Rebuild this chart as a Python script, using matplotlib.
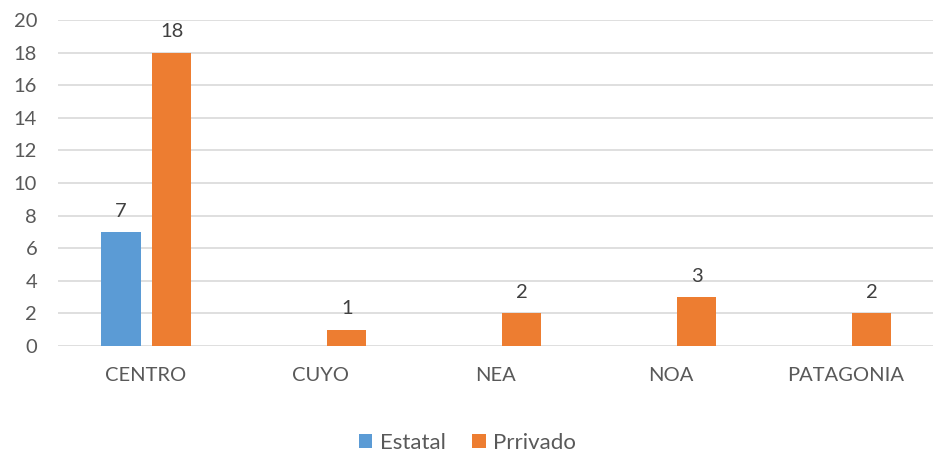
import matplotlib
matplotlib.use('Agg')
import matplotlib.pyplot as plt
import numpy as np

regiones = ['CENTRO', 'CUYO', 'NEA', 'NOA', 'PATAGONIA']
estatal = [7, 0, 0, 0, 0]
privado = [18, 1, 2, 3, 2]
series = ['Estatal', 'Prrivado']

plt.rcParams['font.family'] = ['Lato', 'DejaVu Sans']
gris = '#595959'

fig = plt.figure(figsize=(9.35, 4.55), dpi=100)
ax = fig.add_axes([58 / 935, 1 - 346 / 455, 875 / 935, 326 / 455])

x = np.arange(len(regiones))
w = 0.223
b1 = ax.bar(x - 0.14, estatal, w, color='#5B9BD5', label=series[0], zorder=3)
b2 = ax.bar(x + 0.15, privado, w, color='#ED7D31', label=series[1], zorder=3)

for bars, vals in [(b1, estatal), (b2, privado)]:
    for r, v in zip(bars, vals):
        if v == 0:
            continue
        ax.text(r.get_x() + r.get_width() / 2, v + 0.75, str(v), ha='center',
                va='bottom', fontsize=14.5, color='#404040')

ax.set_xlim(-0.5, len(regiones) - 0.5)
ax.set_ylim(0, 20)
ax.set_yticks(range(0, 21, 2))
ax.set_xticks(x)
ax.set_xticklabels(regiones)
ax.grid(axis='y', color='#D9D9D9', linewidth=1.2, zorder=0)
for s in ax.spines.values():
    s.set_visible(False)
ax.tick_params(axis='both', length=0, labelsize=14.5, colors=gris)
ax.tick_params(axis='y', pad=15)
ax.tick_params(axis='x', pad=15)

fig.legend(loc='lower center', bbox_to_anchor=(0.5, -0.04), ncol=2, frameon=False,
           fontsize=16, labelcolor=gris, handlelength=0.6, handleheight=0.6,
           handletextpad=0.35, columnspacing=1.2)

fig.savefig('out.png', dpi=100)
